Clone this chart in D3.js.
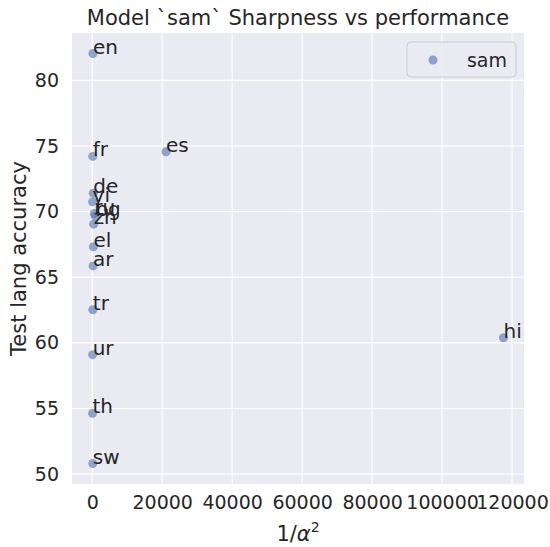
<!DOCTYPE html>
<html>
<head>
<meta charset="utf-8">
<script src="https://cdn.jsdelivr.net/npm/d3@7"></script>
<style>
  body { margin: 0; background: #fff; }
  svg text { font-family: "DejaVu Sans", sans-serif; fill: #262626; }
</style>
</head>
<body>
<div id="chart"></div>
<script>
// data
const langs = ['en', 'fr', 'es', 'de', 'vi', 'ru', 'bg', 'zh', 'el', 'ar', 'tr', 'ur', 'th', 'sw', 'hi'];
const invAlphaSq = [200, 150, 21100, 300, 100, 600, 900, 400, 350, 250, 180, 120, 90, 160, 117550];
const accuracy = [82.04, 74.2, 74.56, 71.4, 70.74, 69.85, 69.65, 69.04, 67.32, 65.86, 62.52, 59.1, 54.63, 50.81, 60.39];
const xTicks = [0, 20000, 40000, 60000, 80000, 100000, 120000];
const yTicks = [50, 55, 60, 65, 70, 75, 80];
const seriesName = 'sam';

const width = 550, height = 547;
const margin = { top: 33, right: 26, bottom: 63, left: 72 };
const iw = width - margin.left - margin.right;
const ih = height - margin.top - margin.bottom;

const points = langs.map((l, i) => ({ lang: l, x: invAlphaSq[i], y: accuracy[i] }));

// matplotlib style 5% padding
function padded(vals) {
    const [lo, hi] = d3.extent(vals);
    const p = (hi - lo) * 0.05;
    return [lo - p, hi + p];
}

const x = d3.scaleLinear().domain(padded(invAlphaSq)).range([0, iw]);
const y = d3.scaleLinear().domain(padded(accuracy)).range([ih, 0]);

const svg = d3.select('#chart').append('svg')
    .attr('width', width)
    .attr('height', height);

const g = svg.append('g').attr('transform', `translate(${margin.left},${margin.top})`);

g.append('rect')
    .attr('width', iw)
    .attr('height', ih)
    .attr('fill', '#eaeaf2');

// grid
const grid = g.append('g');
grid.selectAll('.vg').data(xTicks).join('line')
    .attr('x1', d => x(d)).attr('x2', d => x(d))
    .attr('y1', 0).attr('y2', ih)
    .attr('stroke', '#fff').attr('stroke-width', 1.2);
grid.selectAll('.hg').data(yTicks).join('line')
    .attr('y1', d => y(d)).attr('y2', d => y(d))
    .attr('x1', 0).attr('x2', iw)
    .attr('stroke', '#fff').attr('stroke-width', 1.2);

// axes (tick labels only, seaborn darkgrid has no spines)
const xAxis = g.append('g')
    .attr('transform', `translate(0,${ih})`)
    .call(d3.axisBottom(x).tickValues(xTicks).tickSize(0).tickPadding(12).tickFormat(d3.format('d')));
const yAxis = g.append('g')
    .call(d3.axisLeft(y).tickValues(yTicks).tickSize(0).tickPadding(13).tickFormat(d3.format('d')));
[xAxis, yAxis].forEach(a => {
    a.select('.domain').remove();
    a.selectAll('text').attr('font-size', 19).attr('fill', '#262626').attr('font-family', '"DejaVu Sans", sans-serif');
});

// points
g.append('g').selectAll('circle').data(points).join('circle')
    .attr('cx', d => x(d.x))
    .attr('cy', d => y(d.y))
    .attr('r', 4.5)
    .attr('fill', '#4c72b0')
    .attr('fill-opacity', 0.6);

// annotations
g.append('g').selectAll('text').data(points).join('text')
    .attr('x', d => x(d.x))
    .attr('y', d => y(d.y))
    .attr('font-size', 20)
    .text(d => d.lang);

// legend
const lg = g.append('g').attr('transform', `translate(${iw - 117},9)`);
lg.append('rect')
    .attr('width', 109).attr('height', 35).attr('rx', 4)
    .attr('fill', '#eaeaf2').attr('fill-opacity', 0.8)
    .attr('stroke', '#cccccc').attr('stroke-width', 1);
lg.append('circle')
    .attr('cx', 26).attr('cy', 18).attr('r', 4.5)
    .attr('fill', '#4c72b0').attr('fill-opacity', 0.6);
lg.append('text')
    .attr('x', 100).attr('y', 18).attr('dy', '0.35em')
    .attr('text-anchor', 'end')
    .attr('font-size', 19)
    .text(seriesName);

// title and axis labels
svg.append('text')
    .attr('x', margin.left + iw / 2).attr('y', 25)
    .attr('text-anchor', 'middle')
    .attr('font-size', 21)
    .text('Model `sam` Sharpness vs performance');

const xl = svg.append('text')
    .attr('x', margin.left + iw / 2).attr('y', 541)
    .attr('text-anchor', 'middle')
    .attr('font-size', 21);
xl.append('tspan').text('1/');
xl.append('tspan').attr('font-style', 'italic').text('α');
xl.append('tspan').attr('font-size', 14).attr('dy', -9).text('2');

svg.append('text')
    .attr('transform', `translate(26,${margin.top + ih / 2}) rotate(-90)`)
    .attr('text-anchor', 'middle')
    .attr('font-size', 21)
    .text('Test lang accuracy');
</script>
</body>
</html>
